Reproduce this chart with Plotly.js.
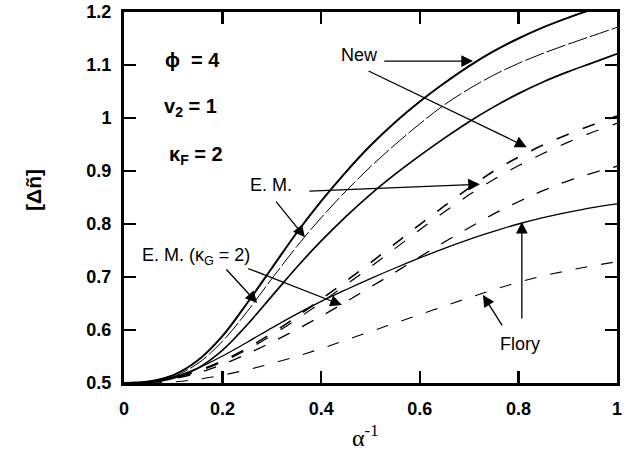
<!DOCTYPE html>
<html>
<head>
<meta charset="utf-8">
<script src="https://cdn.plot.ly/plotly-3.0.1.min.js"></script>
<style>html,body{margin:0;padding:0;background:#fff;}#chart{width:637px;height:455px;}</style>
</head>
<body>
<div id="chart"></div>
<script>
// x values (alpha^-1)
const xVals = [0,0.05,0.1,0.15,0.2,0.25,0.3,0.35,0.4,0.45,0.5,0.55,0.6,0.65,0.7,0.75,0.8,0.85,0.9,0.95,1.0];

// solid curves
const newSolid   = [0.5,0.503,0.515,0.543,0.589,0.651,0.717,0.783,0.843,0.898,0.948,0.992,1.031,1.066,1.098,1.126,1.150,1.171,1.189,1.205,1.219];
const emSolid    = [0.5,0.502,0.512,0.537,0.579,0.635,0.697,0.757,0.812,0.862,0.908,0.950,0.989,1.025,1.055,1.081,1.103,1.122,1.139,1.155,1.171];
const emKgSolid  = [0.5,0.501,0.509,0.528,0.562,0.610,0.664,0.718,0.768,0.814,0.856,0.894,0.929,0.962,0.993,1.021,1.046,1.068,1.087,1.104,1.121];
const florySolid = [0.5,0.502,0.511,0.528,0.551,0.577,0.604,0.630,0.654,0.676,0.697,0.717,0.736,0.754,0.771,0.786,0.800,0.812,0.822,0.831,0.838];

// dashed curves
const newDash    = [0.5,0.502,0.509,0.523,0.542,0.566,0.594,0.625,0.658,0.692,0.727,0.763,0.799,0.834,0.868,0.900,0.926,0.949,0.969,0.987,1.004];
const emDash     = [0.5,0.502,0.509,0.522,0.540,0.563,0.590,0.620,0.652,0.685,0.719,0.754,0.789,0.823,0.855,0.884,0.910,0.933,0.954,0.973,0.990];
const emKgDash   = [0.5,0.502,0.508,0.519,0.535,0.555,0.577,0.601,0.626,0.653,0.681,0.709,0.738,0.766,0.793,0.819,0.842,0.863,0.881,0.896,0.909];
const floryDash  = [0.5,0.5,0.502,0.507,0.515,0.525,0.537,0.550,0.565,0.581,0.597,0.613,0.629,0.645,0.661,0.676,0.690,0.702,0.712,0.721,0.729];

const xTicks = [0,0.2,0.4,0.6,0.8,1];
const xTickText = ['0','0.2','0.4','0.6','0.8','1'];
const yTicks = [0.5,0.6,0.7,0.8,0.9,1.0,1.1,1.2];
const yTickText = ['0.5','0.6','0.7','0.8','0.9','1','1.1','1.2'];

function tr(y, w, dash){
  return {x:xVals, y:y, mode:'lines', line:{color:'#000', width:w, dash:dash, shape:'spline', smoothing:1}, hoverinfo:'skip', showlegend:false};
}
const data = [
  tr(newSolid, 2, 'solid'),
  tr(emSolid, 1, '20px,3px'),
  tr(emKgSolid, 1.7, 'solid'),
  tr(florySolid, 1.3, 'solid'),
  tr(newDash, 1.6, '13px,15px'),
  tr(emDash, 1.2, '13px,15px'),
  tr(emKgDash, 1.3, '13px,14px'),
  tr(floryDash, 1.1, '12px,14px')
];

const font = 'Liberation Sans, Arial, sans-serif';
function arrow(x, y, ax, ay){
  return {x:x, y:y, ax:ax, ay:ay, xref:'x', yref:'y', axref:'x', ayref:'y', text:'', showarrow:true,
    arrowhead:2, arrowsize:1.8, arrowwidth:1.3, arrowcolor:'#000', standoff:0};
}
function label(x, y, text, opts){
  return Object.assign({x:x, y:y, xref:'x', yref:'y', text:text, showarrow:false, xanchor:'center', yanchor:'middle',
    font:{family:font, size:18, color:'#000'}}, opts||{});
}
const bold = {family:font, size:20, color:'#000', weight:'bold'};

const annotations = [
  label(0.079, 1.109, 'ϕ  = 4', {xanchor:'left', font:bold}),
  label(0.077, 1.019, 'v<sub>2</sub> = 1', {xanchor:'left', font:bold}),
  label(0.087, 0.93, 'κ<sub>F</sub> = 2', {xanchor:'left', font:bold}),
  label(0.477, 1.119, 'New'),
  label(0.298, 0.874, 'E. M.'),
  label(0.146, 0.738, 'E. M. (κ<sub>G</sub> = 2)'),
  label(0.803, 0.574, 'Flory'),
  arrow(0.708, 1.1075, 0.525, 1.1075),
  arrow(0.817, 0.945, 0.493, 1.09),
  arrow(0.722, 0.875, 0.373, 0.862),
  arrow(0.367, 0.775, 0.306, 0.845),
  arrow(0.27, 0.651, 0.205, 0.717),
  arrow(0.442, 0.647, 0.249, 0.717),
  arrow(0.807, 0.804, 0.807, 0.619),
  arrow(0.728, 0.666, 0.769, 0.606),
  {x:-0.185, y:0.52, xref:'paper', yref:'paper', xanchor:'center', yanchor:'middle', text:'[Δñ]', showarrow:false, textangle:-90,
    font:{family:font, size:21, color:'#000', weight:'bold'}},
  {x:0.49, y:-0.143, xref:'paper', yref:'paper', xanchor:'center', yanchor:'middle', text:'α<sup>-1</sup>', showarrow:false,
    font:{family:'Liberation Serif, Times New Roman, serif', size:24, color:'#000'}}
];

const layout = {
  width:637, height:455,
  margin:{l:124, r:20, t:12, b:72},
  paper_bgcolor:'#fff', plot_bgcolor:'#fff',
  showlegend:false,
  xaxis:{range:[0,1], tickvals:xTicks, ticktext:xTickText, ticks:'inside', ticklen:12, tickwidth:2.5,
    tickcolor:'#000', showline:true, linewidth:3, linecolor:'#000', mirror:'ticks', showgrid:false, zeroline:false,
    tickfont:{family:font, size:18, color:'#000', weight:'bold'}, ticklabelstandoff:7, fixedrange:true},
  yaxis:{range:[0.5,1.2], tickvals:yTicks, ticktext:yTickText, ticks:'inside', ticklen:12, tickwidth:2.5,
    tickcolor:'#000', showline:true, linewidth:3, linecolor:'#000', mirror:'ticks', showgrid:false, zeroline:false,
    tickfont:{family:font, size:18, color:'#000', weight:'bold'}, ticklabelstandoff:6, fixedrange:true},
  annotations:annotations
};

Plotly.newPlot('chart', data, layout, {staticPlot:true, displayModeBar:false});
</script>
</body>
</html>
